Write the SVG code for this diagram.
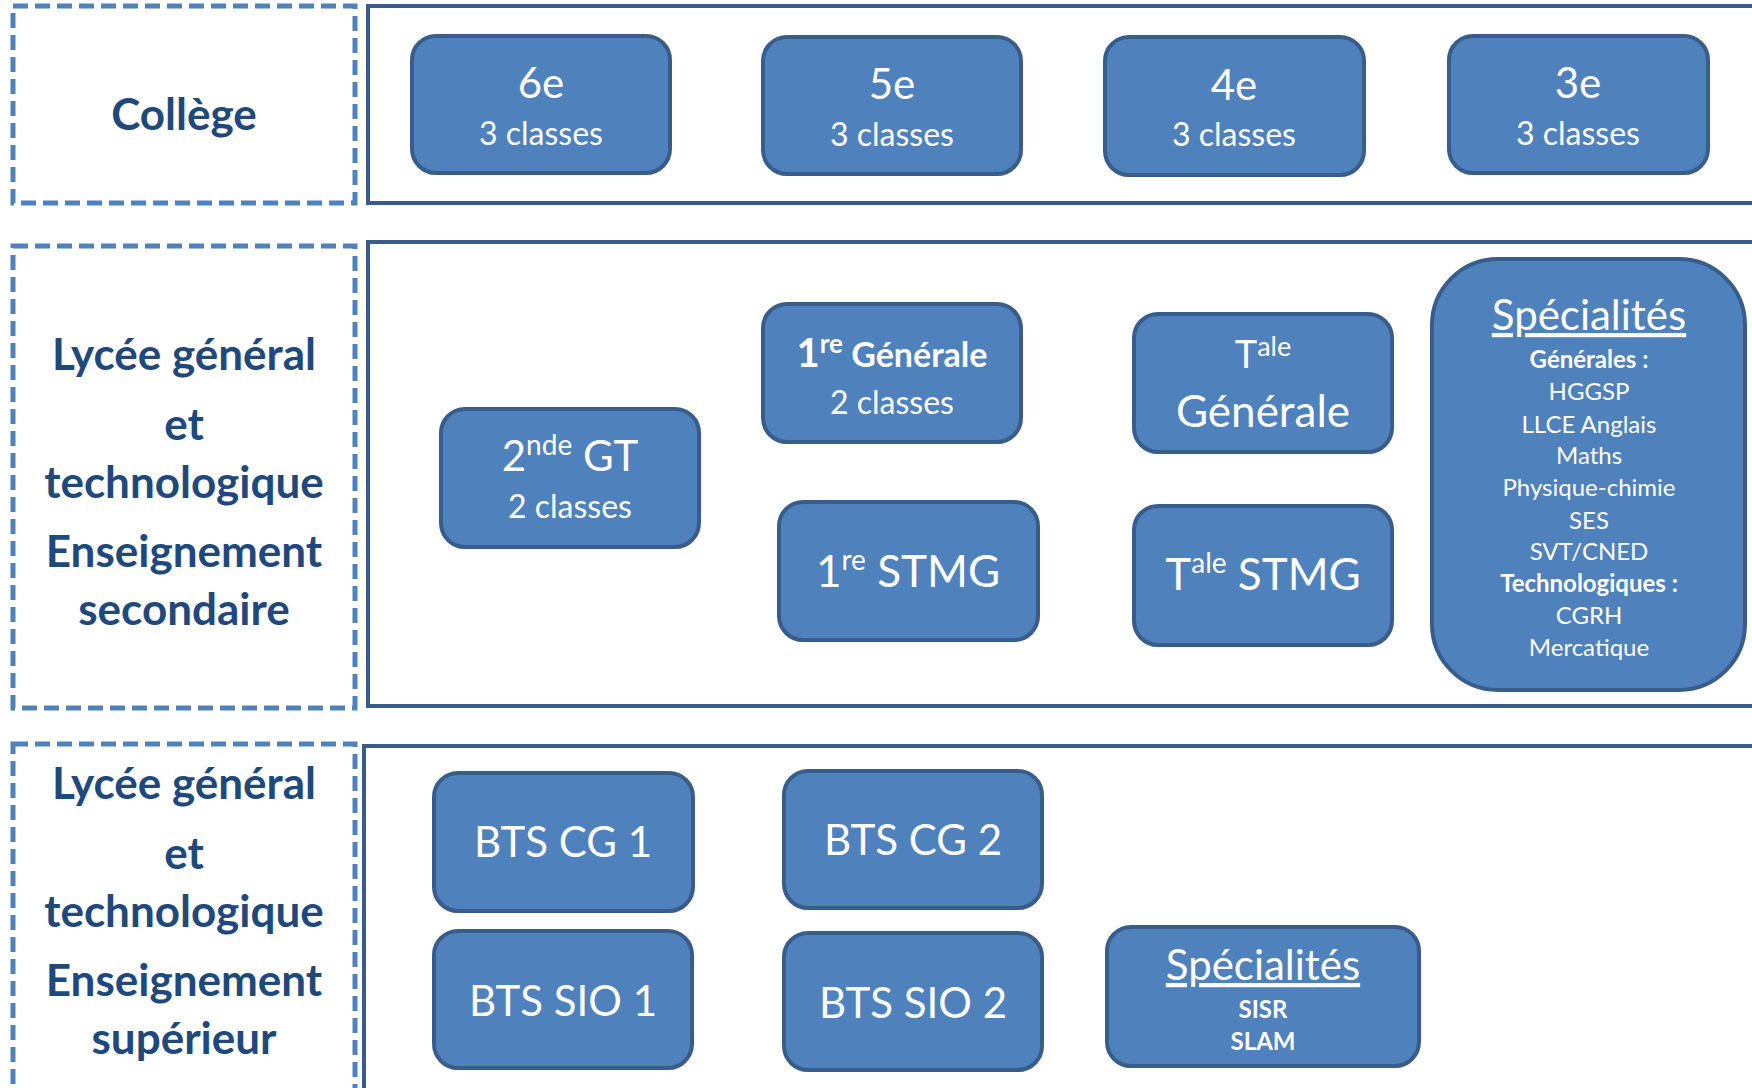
<svg xmlns="http://www.w3.org/2000/svg" width="1752" height="1088" viewBox="0 0 1752 1088">
<style>
.dash{fill:#fff;stroke:#4F81BD;stroke-width:5;stroke-dasharray:15 7}
.frame{fill:#fff;stroke:#385D8A;stroke-width:4}
.node{fill:#4F81BD;stroke:#385D8A;stroke-width:4}
.lab{font-family:Lato,"Open Sans","Liberation Sans",sans-serif;font-weight:bold;fill:#1F497D;text-anchor:middle;font-size:44px}
.t{font-family:Lato,"Open Sans","Liberation Sans",sans-serif;fill:#fff;text-anchor:middle}
.big{font-size:42px}
.sm{font-size:32px}
.xs{font-size:24px}
.b{font-weight:bold}
</style>
<rect width="1752" height="1088" fill="#fff"/>
<g id="sections">
<rect class="dash" x="13" y="6" width="342" height="197"/>
<rect class="frame" x="368" y="6" width="1500" height="197"/>
<rect class="dash" x="13" y="246" width="342" height="462"/>
<rect class="frame" x="368" y="242" width="1500" height="464"/>
<rect class="dash" x="13" y="744" width="342" height="400"/>
<rect class="frame" x="364" y="746" width="1500" height="400"/>
</g>
<g id="labels">
<text class="lab" x="184" y="130">Collège</text>
<text class="lab" x="184" y="370">Lycée général</text>
<text class="lab" x="184" y="440">et</text>
<text class="lab" x="184" y="498">technologique</text>
<text class="lab" x="184" y="567">Enseignement</text>
<text class="lab" x="184" y="625">secondaire</text>
<text class="lab" x="184" y="799">Lycée général</text>
<text class="lab" x="184" y="869">et</text>
<text class="lab" x="184" y="927">technologique</text>
<text class="lab" x="184" y="996">Enseignement</text>
<text class="lab" x="184" y="1054">supérieur</text>
</g>
<g id="n6e"><rect class="node" x="412" y="36" width="258" height="137" rx="24"/><text class="t big" x="541" y="98">6e</text><text class="t sm" x="541" y="145">3 classes</text></g>
<g id="n5e"><rect class="node" x="763" y="37" width="258" height="137" rx="24"/><text class="t big" x="892" y="99">5e</text><text class="t sm" x="892" y="146">3 classes</text></g>
<g id="n4e"><rect class="node" x="1105" y="37" width="259" height="138" rx="24"/><text class="t big" x="1234" y="100">4e</text><text class="t sm" x="1234" y="146">3 classes</text></g>
<g id="n3e"><rect class="node" x="1449" y="36" width="259" height="137" rx="24"/><text class="t big" x="1578" y="98">3e</text><text class="t sm" x="1578" y="145">3 classes</text></g>
<g id="n2nde"><rect class="node" x="441" y="409" width="258" height="138" rx="24"/><text class="t big" x="570" y="471">2<tspan font-size="28" dy="-16">nde</tspan><tspan dy="16"> GT</tspan></text><text class="t sm" x="570" y="518">2 classes</text></g>
<g id="n1gen"><rect class="node" x="763" y="304" width="258" height="138" rx="24"/><text class="t b" font-size="34" x="892" y="367"><tspan font-size="40">1</tspan><tspan font-size="26" dy="-14">re</tspan><tspan dy="14"> Générale</tspan></text><text class="t sm" x="892" y="414">2 classes</text></g>
<g id="n1stmg"><rect class="node" x="779" y="502" width="259" height="138" rx="24"/><text class="t" font-size="44" x="908" y="587">1<tspan font-size="28" dy="-17">re</tspan><tspan dy="17"> STMG</tspan></text></g>
<g id="ntgen"><rect class="node" x="1134" y="314" width="258" height="138" rx="24"/><text class="t" font-size="38" x="1263" y="368">T<tspan font-size="27" dy="-12">ale</tspan></text><text class="t" font-size="44" x="1263" y="427">Générale</text></g>
<g id="ntstmg"><rect class="node" x="1134" y="506" width="258" height="139" rx="24"/><text class="t" font-size="44" x="1263" y="590">T<tspan font-size="28" dy="-17">ale</tspan><tspan dy="17"> STMG</tspan></text></g>
<g id="nspec1"><rect class="node" x="1432" y="259" width="313" height="431" rx="66"/>
<text class="t big" x="1589" y="330" text-decoration="underline">Spécialités</text>
<text class="t xs b" x="1589" y="368">Générales :</text>
<text class="t xs" x="1589" y="400">HGGSP</text>
<text class="t xs" x="1589" y="433">LLCE Anglais</text>
<text class="t xs" x="1589" y="464">Maths</text>
<text class="t xs" x="1589" y="496">Physique-chimie</text>
<text class="t xs" x="1589" y="529">SES</text>
<text class="t xs" x="1589" y="560">SVT/CNED</text>
<text class="t xs b" x="1589" y="592">Technologiques :</text>
<text class="t xs" x="1589" y="624">CGRH</text>
<text class="t xs" x="1589" y="656">Mercatique</text>
</g>
<g id="ncg1"><rect class="node" x="434" y="773" width="259" height="138" rx="24"/><text class="t big" x="563" y="857">BTS CG 1</text></g>
<g id="ncg2"><rect class="node" x="784" y="771" width="258" height="137" rx="24"/><text class="t big" x="913" y="855">BTS CG 2</text></g>
<g id="nsio1"><rect class="node" x="434" y="931" width="258" height="137" rx="24"/><text class="t big" x="563" y="1016">BTS SIO 1</text></g>
<g id="nsio2"><rect class="node" x="784" y="933" width="258" height="137" rx="24"/><text class="t big" x="913" y="1018">BTS SIO 2</text></g>
<g id="nspec2"><rect class="node" x="1107" y="927" width="312" height="139" rx="24"/>
<text class="t big" x="1263" y="980" text-decoration="underline">Spécialités</text>
<text class="t xs b" x="1263" y="1018">SISR</text>
<text class="t xs b" x="1263" y="1050">SLAM</text>
</g>
<g id="connectors"></g>
</svg>
